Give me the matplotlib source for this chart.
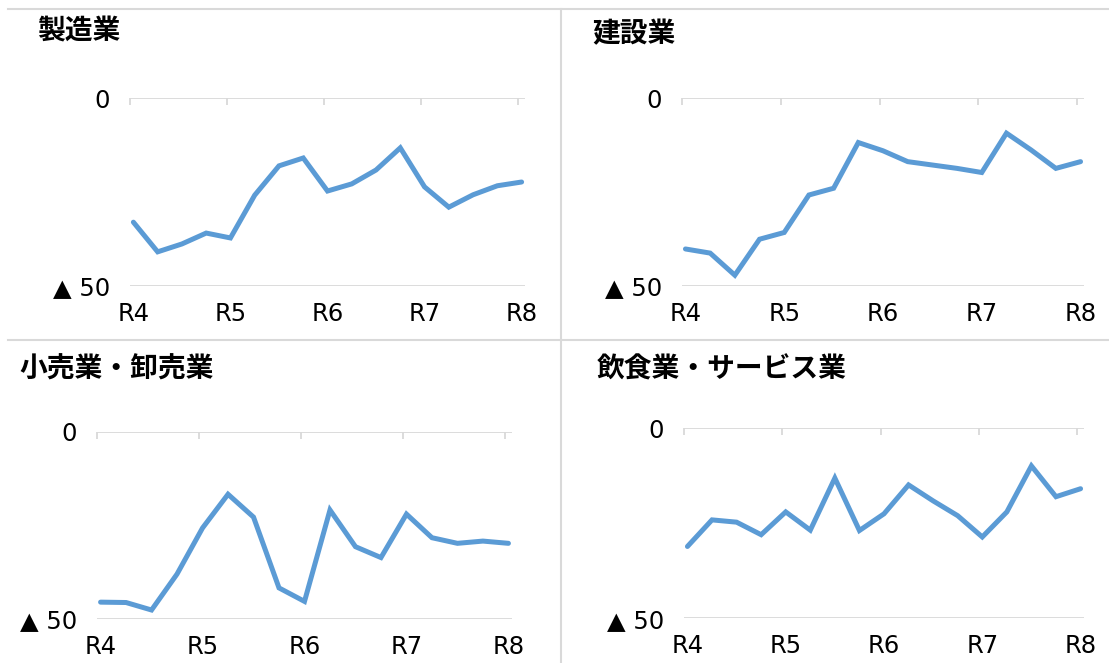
import matplotlib
matplotlib.use("Agg")
import matplotlib.pyplot as plt
from matplotlib.lines import Line2D
from matplotlib.ticker import FixedLocator

plt.rcParams['font.family'] = ['DejaVu Sans', 'Noto Sans CJK JP']

# ---- data (quarterly, R4 .. R8) ----
year_labels = ['R4', 'R5', 'R6', 'R7', 'R8']
titles = ['製造業', '建設業', '小売業・卸売業', '飲食業・サービス業']
y_tick_values = [-50, 0]
y_tick_labels = ['▲ 50', '0']

manufacturing = [-33.0, -40.9, -38.8, -35.9, -37.2, -25.8, -18.0, -15.9, -24.7,
                 -22.8, -19.1, -13.2, -23.6, -29.0, -25.7, -23.3, -22.3]
construction = [-40.2, -41.3, -47.2, -37.6, -35.8, -25.8, -24.0, -11.8, -14.0,
                -16.9, -17.8, -18.7, -19.8, -9.3, -13.8, -18.7, -16.9]
retail_wholesale = [-45.5, -45.6, -47.6, -38.0, -25.7, -16.7, -22.8, -41.7, -45.3,
                    -20.9, -30.7, -33.6, -22.0, -28.3, -29.8, -29.2, -29.8]
food_service = [-31.1, -24.1, -24.7, -28.0, -22.0, -26.8, -13.1, -26.9, -22.5,
                -14.9, -19.1, -23.0, -28.6, -22.0, -9.9, -18.0, -15.9]

series = [manufacturing, construction, retail_wholesale, food_service]

W, H = 1109, 663
fig = plt.figure(figsize=(W / 100, H / 100), dpi=100)

LINE_C = '#5B9BD5'
GRID_C = '#D9D9D9'

# axes boxes in pixels: left, right, top, bottom
boxes = [(130, 525, 98.3, 286.0),
         (682, 1084, 98.3, 285.7),
         (97, 512, 431.7, 619.0),
         (684, 1084, 428.3, 618.3)]
title_pos = [(37, 31), (592, 34), (19, 370), (597, 369.5)]

for vals, box, title, tpos in zip(series, boxes, titles, title_pos):
    l, r, t, b = box
    ax = fig.add_axes([l / W, 1 - b / H, (r - l) / W, (b - t) / H])
    x = list(range(len(vals)))
    ax.plot(x, vals, color=LINE_C, lw=3.6, solid_capstyle='round',
            solid_joinstyle='miter', clip_on=False, zorder=3)
    ax.set_xlim(-0.14, 16.14)
    ax.set_ylim(-50, 0)
    for s in ax.spines.values():
        s.set_visible(False)
    ax.axhline(0, color=GRID_C, lw=1.3, zorder=1)
    ax.axhline(-50, color=GRID_C, lw=1.3, zorder=1)
    ax.set_xticks([0, 4, 8, 12, 16])
    ax.set_xticklabels(year_labels)
    ax.xaxis.set_minor_locator(FixedLocator([k * 4 - 0.14 for k in range(5)]))
    ax.tick_params(axis='x', which='major', length=0, pad=11.5,
                   labelsize=17.5, bottom=True, top=False, labelcolor='#000000')
    ax.tick_params(axis='x', which='minor', length=5, width=1.3, color=GRID_C,
                   direction='in', top=True, bottom=False, labeltop=False,
                   labelbottom=False)
    ax.set_yticks(y_tick_values)
    ax.set_yticklabels(y_tick_labels)
    ax.tick_params(axis='y', length=0, pad=14.5, labelsize=17.5,
                   labelcolor='#000000')
    ax.patch.set_alpha(0)
    fig.text(tpos[0] / W, 1 - tpos[1] / H, title, ha='left', va='center',
             fontsize=20, fontweight='bold', family=['Noto Sans CJK JP'],
             color='#000000')

# separator lines between panels
sep = dict(color=GRID_C, lw=1.5, transform=fig.transFigure)
fig.add_artist(Line2D([8 / W, 1], [1 - 8.5 / H, 1 - 8.5 / H], **sep))
fig.add_artist(Line2D([8 / W, 1], [1 - 340 / H, 1 - 340 / H], **sep))
fig.add_artist(Line2D([560.5 / W, 560.5 / W], [1 - 8.5 / H, 0], **sep))

fig.savefig('out.png', dpi=100, facecolor='white')
